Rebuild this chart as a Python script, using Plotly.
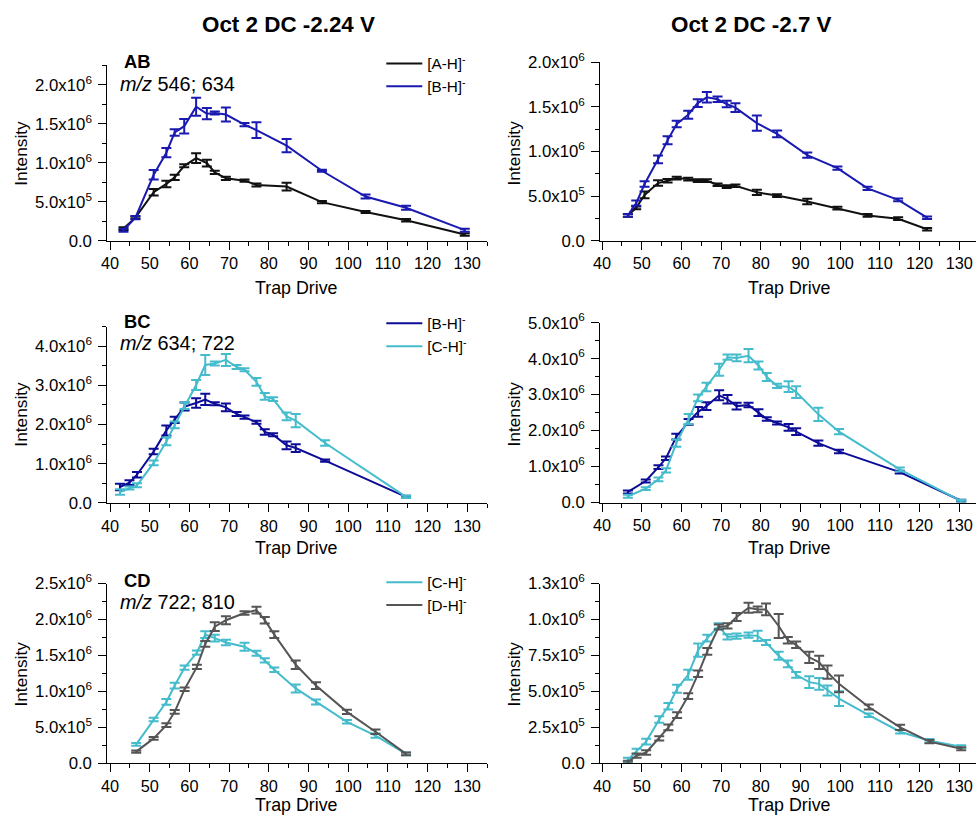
import plotly.graph_objects as go

# ---------------- data ----------------
# Panel 1: AB, DC -2.24 V
x1 = [43.4, 46.4, 51.0, 54.2, 56.3, 58.7, 61.7, 64.4, 66.4, 69.2, 73.9, 76.9, 84.5, 93.4, 104.4, 114.6, 129.4]
ab1_A = [157e3, 297e3, 623e3, 729e3, 814e3, 962e3, 1.06e6, 996e3, 877e3, 801e3, 771e3, 716e3, 695e3, 496e3, 369e3, 263e3, 81e3]
ab1_A_err = [17e3, 15e3, 42e3, 42e3, 34e3, 20e3, 63e3, 42e3, 20e3, 20e3, 15e3, 20e3, 50e3, 15e3, 12e3, 15e3, 15e3]
ab1_B = [136e3, 297e3, 847e3, 1.13e6, 1.39e6, 1.47e6, 1.72e6, 1.63e6, 1.64e6, 1.62e6, 1.49e6, 1.42e6, 1.22e6, 898e3, 568e3, 424e3, 136e3]
ab1_B_err = [20e3, 20e3, 60e3, 60e3, 42e3, 93e3, 115e3, 72e3, 20e3, 90e3, 20e3, 100e3, 85e3, 12e3, 25e3, 25e3, 20e3]

# Panel 2: AB, DC -2.7 V
x2 = [46.5, 48.6, 50.7, 54.1, 56.5, 58.8, 61.7, 64.1, 66.4, 69.1, 71.4, 73.6, 79.0, 84.1, 91.7, 99.3, 106.9, 114.6, 121.9]
ab2_A = [284e3, 369e3, 513e3, 646e3, 672e3, 701e3, 690e3, 672e3, 672e3, 627e3, 605e3, 616e3, 542e3, 506e3, 439e3, 365e3, 284e3, 247e3, 129e3]
ab2_A_err = [15e3, 15e3, 37e3, 30e3, 20e3, 15e3, 15e3, 15e3, 15e3, 15e3, 15e3, 15e3, 30e3, 15e3, 30e3, 15e3, 15e3, 15e3, 15e3]
ab2_B = [284e3, 421e3, 635e3, 911e3, 1.125e6, 1.306e6, 1.41e6, 1.54e6, 1.605e6, 1.583e6, 1.53e6, 1.49e6, 1.317e6, 1.196e6, 959e3, 812e3, 587e3, 458e3, 258e3]
ab2_B_err = [15e3, 30e3, 30e3, 44e3, 44e3, 37e3, 44e3, 44e3, 59e3, 30e3, 37e3, 48e3, 85e3, 37e3, 30e3, 18e3, 18e3, 15e3, 15e3]

# Panel 3: BC, DC -2.24 V
x3 = [42.5, 44.9, 46.8, 51.0, 54.2, 56.3, 58.8, 61.7, 64.0, 66.4, 69.2, 71.9, 73.9, 76.9, 79.0, 81.1, 84.5, 86.8, 94.2, 114.6]
bc1_B = [407e3, 517e3, 720e3, 1.31e6, 1.85e6, 2.12e6, 2.46e6, 2.55e6, 2.64e6, 2.53e6, 2.44e6, 2.27e6, 2.19e6, 2.06e6, 1.81e6, 1.74e6, 1.47e6, 1.40e6, 1.08e6, 153e3]
bc1_B_err = [85e3, 60e3, 70e3, 70e3, 127e3, 80e3, 100e3, 120e3, 144e3, 40e3, 100e3, 50e3, 40e3, 40e3, 70e3, 40e3, 100e3, 100e3, 30e3, 30e3]
bc1_C = [280e3, 381e3, 449e3, 1.02e6, 1.57e6, 1.99e6, 2.48e6, 3.01e6, 3.52e6, 3.56e6, 3.65e6, 3.47e6, 3.40e6, 3.09e6, 2.72e6, 2.65e6, 2.21e6, 2.10e6, 1.53e6, 153e3]
bc1_C_err = [70e3, 40e3, 50e3, 60e3, 100e3, 85e3, 85e3, 127e3, 254e3, 50e3, 153e3, 50e3, 40e3, 100e3, 85e3, 50e3, 100e3, 170e3, 70e3, 30e3]

# Panel 4: BC, DC -2.7 V
x4 = [46.5, 51.0, 54.2, 56.1, 58.7, 61.8, 64.2, 66.3, 69.5, 71.6, 73.9, 76.9, 79.4, 81.5, 84.1, 87.0, 88.9, 94.5, 99.7, 115.0, 130.5]
bc2_B = [294e3, 597e3, 983e3, 1.23e6, 1.83e6, 2.24e6, 2.52e6, 2.68e6, 2.98e6, 2.87e6, 2.68e6, 2.71e6, 2.50e6, 2.32e6, 2.21e6, 2.09e6, 1.97e6, 1.65e6, 1.42e6, 846e3, 50e3]
bc2_B_err = [40e3, 40e3, 50e3, 50e3, 80e3, 80e3, 138e3, 110e3, 138e3, 120e3, 92e3, 60e3, 92e3, 50e3, 40e3, 92e3, 92e3, 74e3, 50e3, 40e3, 30e3]
bc2_C = [175e3, 386e3, 643e3, 892e3, 1.65e6, 2.32e6, 2.91e6, 3.21e6, 3.69e6, 4.04e6, 4.02e6, 4.08e6, 3.81e6, 3.49e6, 3.24e6, 3.22e6, 3.07e6, 2.45e6, 1.97e6, 919e3, 40e3]
bc2_C_err = [40e3, 40e3, 50e3, 60e3, 100e3, 138e3, 92e3, 120e3, 165e3, 74e3, 92e3, 184e3, 110e3, 110e3, 60e3, 150e3, 165e3, 184e3, 74e3, 55e3, 30e3]

# Panel 5: CD, DC -2.24 V
x5 = [46.6, 51.0, 54.2, 56.3, 58.8, 61.9, 64.0, 66.4, 69.2, 73.9, 76.9, 79.0, 81.4, 86.8, 91.9, 99.7, 106.9, 114.6]
cd1_C = [262e3, 608e3, 852e3, 1.08e6, 1.33e6, 1.54e6, 1.79e6, 1.74e6, 1.68e6, 1.62e6, 1.53e6, 1.43e6, 1.30e6, 1.04e6, 852e3, 576e3, 382e3, 129e3]
cd1_C_err = [20e3, 25e3, 40e3, 40e3, 30e3, 30e3, 46e3, 46e3, 37e3, 55e3, 35e3, 30e3, 30e3, 55e3, 35e3, 25e3, 30e3, 20e3]
cd1_D = [161e3, 345e3, 529e3, 714e3, 1.03e6, 1.34e6, 1.66e6, 1.90e6, 1.99e6, 2.09e6, 2.13e6, 1.99e6, 1.79e6, 1.37e6, 1.08e6, 714e3, 437e3, 129e3]
cd1_D_err = [15e3, 20e3, 25e3, 25e3, 25e3, 30e3, 40e3, 60e3, 55e3, 25e3, 46e3, 46e3, 46e3, 60e3, 46e3, 30e3, 30e3, 20e3]

# Panel 6: CD, DC -2.7 V
x6 = [46.5, 48.7, 51.1, 54.4, 56.7, 58.9, 61.7, 64.2, 66.5, 69.4, 71.6, 73.9, 76.9, 79.2, 81.3, 84.5, 86.8, 88.9, 92.2, 94.7, 96.8, 99.7, 107.2, 115.1, 122.5, 130.5]
cd2_C = [23e3, 81e3, 150e3, 304e3, 396e3, 518e3, 615e3, 787e3, 870e3, 955e3, 879e3, 884e3, 891e3, 886e3, 840e3, 748e3, 691e3, 615e3, 564e3, 552e3, 506e3, 449e3, 334e3, 219e3, 156e3, 115e3]
cd2_C_err = [15e3, 20e3, 20e3, 23e3, 23e3, 28e3, 35e3, 46e3, 23e3, 18e3, 18e3, 18e3, 18e3, 35e3, 18e3, 28e3, 23e3, 20e3, 41e3, 41e3, 35e3, 51e3, 12e3, 12e3, 12e3, 10e3]
cd2_D = [7e3, 53e3, 74e3, 173e3, 249e3, 334e3, 467e3, 622e3, 778e3, 948e3, 955e3, 1.018e6, 1.082e6, 1.07e6, 1.07e6, 955e3, 856e3, 824e3, 737e3, 702e3, 633e3, 552e3, 391e3, 249e3, 150e3, 100e3]
cd2_D_err = [10e3, 15e3, 15e3, 15e3, 20e3, 20e3, 20e3, 23e3, 23e3, 18e3, 18e3, 28e3, 35e3, 20e3, 41e3, 83e3, 23e3, 23e3, 39e3, 46e3, 46e3, 58e3, 18e3, 18e3, 12e3, 10e3]

x_ticks = [40, 50, 60, 70, 80, 90, 100, 110, 120, 130]
y_ticks_1 = [0, 5e5, 1e6, 1.5e6, 2e6]
y_text_1 = ["0.0", "5.0x10<sup>5</sup>", "1.0x10<sup>6</sup>", "1.5x10<sup>6</sup>", "2.0x10<sup>6</sup>"]
y_ticks_3 = [0, 1e6, 2e6, 3e6, 4e6]
y_text_3 = ["0.0", "1.0x10<sup>6</sup>", "2.0x10<sup>6</sup>", "3.0x10<sup>6</sup>", "4.0x10<sup>6</sup>"]
y_ticks_4 = [0, 1e6, 2e6, 3e6, 4e6, 5e6]
y_text_4 = ["0.0", "1.0x10<sup>6</sup>", "2.0x10<sup>6</sup>", "3.0x10<sup>6</sup>", "4.0x10<sup>6</sup>", "5.0x10<sup>6</sup>"]
y_ticks_5 = [0, 5e5, 1e6, 1.5e6, 2e6, 2.5e6]
y_text_5 = ["0.0", "5.0x10<sup>5</sup>", "1.0x10<sup>6</sup>", "1.5x10<sup>6</sup>", "2.0x10<sup>6</sup>", "2.5x10<sup>6</sup>"]
y_ticks_6 = [0, 2.5e5, 5e5, 7.5e5, 1e6, 1.25e6]
y_text_6 = ["0.0", "2.5x10<sup>5</sup>", "5.0x10<sup>5</sup>", "7.5x10<sup>5</sup>", "1.0x10<sup>6</sup>", "1.3x10<sup>6</sup>"]

BLACK = "#111111"
BLUE = "#1a1ab0"
NAVY = "#0c0c96"
CYAN = "#45bccc"
GRAY = "#555555"
FONT = "Liberation Sans, Arial, sans-serif"

W, H = 977, 824
# observed page-to-photo mapping (photo = S * page + O); positions below are photo pixels
SX, OX = 0.984, 7.9
SY, OY = 0.981, 7.9
FS = 1 / 0.982


def px(p):
    return min(1.0, max(0.0, (p - OX) / SX / W))


def py(p):
    return min(1.0, max(0.0, 1 - (p - OY) / SY / H))


def f(s):
    return round(s * FS, 2)


fig = go.Figure()


def add(x, y, err, color, name, idx, legend=None):
    fig.add_trace(go.Scatter(
        x=x, y=y, mode="lines", name=name,
        line=dict(color=color, width=2),
        error_y=dict(type="data", array=err, visible=True, color=color, thickness=2, width=5),
        xaxis="x" if idx == 1 else f"x{idx}",
        yaxis="y" if idx == 1 else f"y{idx}",
        showlegend=legend is not None,
        legend=legend if legend else "legend",
    ))


add(x1, ab1_A, ab1_A_err, BLACK, "[A-H]<sup>-</sup>", 1, "legend")
add(x1, ab1_B, ab1_B_err, BLUE, "[B-H]<sup>-</sup>", 1, "legend")
add(x2, ab2_A, ab2_A_err, BLACK, "[A-H]<sup>-</sup>", 2)
add(x2, ab2_B, ab2_B_err, BLUE, "[B-H]<sup>-</sup>", 2)
add(x3, bc1_B, bc1_B_err, NAVY, "[B-H]<sup>-</sup>", 3, "legend2")
add(x3, bc1_C, bc1_C_err, CYAN, "[C-H]<sup>-</sup>", 3, "legend2")
add(x4, bc2_B, bc2_B_err, NAVY, "[B-H]<sup>-</sup>", 4)
add(x4, bc2_C, bc2_C_err, CYAN, "[C-H]<sup>-</sup>", 4)
add(x5, cd1_C, cd1_C_err, CYAN, "[C-H]<sup>-</sup>", 5, "legend3")
add(x5, cd1_D, cd1_D_err, GRAY, "[D-H]<sup>-</sup>", 5, "legend3")
add(x6, cd2_C, cd2_C_err, CYAN, "[C-H]<sup>-</sup>", 6)
add(x6, cd2_D, cd2_D_err, GRAY, "[D-H]<sup>-</sup>", 6)

XMAX = SX * W + OX - 0.5
# columns: (left px, right px, pixel of x=40, pixels per unit)
cols = {"L": (107.5, 484, 110.0, 3.933), "R": (596, min(971, XMAX), 597.7, 3.933)}
# per panel: (column, top px, bottom px)
panels = {1: ("L", 61.7, 238.5), 2: ("R", 58.3, 238.5), 3: ("L", 325, 502.7),
          4: ("R", 321, 502.3), 5: ("L", 584, 765), 6: ("R", 584, 765)}
yinfo = {
    1: ([0, 2.25e6], y_ticks_1, y_text_1, 2.5e5),
    2: ([0, 2.0e6], y_ticks_1, y_text_1, 2.5e5),
    3: ([0, 4.5e6], y_ticks_3, y_text_3, 5e5),
    4: ([0, 5.0e6], y_ticks_4, y_text_4, 5e5),
    5: ([0, 2.5e6], y_ticks_5, y_text_5, 2.5e5),
    6: ([0, 1.25e6], y_ticks_6, y_text_6, 1.25e5),
}

layout = {}
for i in range(1, 7):
    c, t, b = panels[i]
    l, r, x40, ppu = cols[c]
    xr = [40 + (l - x40) / ppu, 40 + (r - x40) / ppu]
    yr, yt, ytt, ymin = yinfo[i]
    xk = "xaxis" if i == 1 else f"xaxis{i}"
    yk = "yaxis" if i == 1 else f"yaxis{i}"
    layout[xk] = dict(
        domain=[px(l), px(r)], range=xr, anchor="y" if i == 1 else f"y{i}",
        tickvals=x_ticks, ticks="outside", ticklen=8, tickwidth=1.3, tickcolor="black",
        showline=True, linecolor="black", linewidth=1.3, showgrid=False, zeroline=False,
        tickfont=dict(size=f(16), color="black", family=FONT),
        minor=dict(dtick=5, tick0=0, ticks="outside", ticklen=4, tickwidth=1.3, tickcolor="black", showgrid=False),
    )
    layout[yk] = dict(
        domain=[py(b), py(t)], range=yr, anchor="x" if i == 1 else f"x{i}",
        tickvals=yt, ticktext=ytt, ticks="outside", ticklen=8, tickwidth=1.3, tickcolor="black",
        showline=True, linecolor="black", linewidth=1.3, showgrid=False, zeroline=False,
        tickfont=dict(size=f(16.5), color="black", family=FONT), ticklabelstandoff=3,
        minor=dict(dtick=ymin, tick0=0, ticks="outside", ticklen=4, tickwidth=1.3, tickcolor="black", showgrid=False),
    )

leg_common = dict(xanchor="left", yanchor="top", bgcolor="rgba(0,0,0,0)",
                  font=dict(size=f(15), color="black", family=FONT), itemwidth=36,
                  tracegroupgap=0)
layout["legend"] = dict(x=377 / W, y=1 - 36 / H, **leg_common)
layout["legend2"] = dict(x=377 / W, y=1 - 303 / H, **leg_common)
layout["legend3"] = dict(x=377 / W, y=1 - 569 / H, **leg_common)

ann = []


def txt(x, y, s, size, bold=False, angle=0, xanchor="center"):
    ann.append(dict(x=px(x), y=py(y), xref="paper", yref="paper", text=(f"<b>{s}</b>" if bold else s),
                    showarrow=False, textangle=angle, xanchor=xanchor, yanchor="middle",
                    font=dict(size=f(size), color="black", family=FONT)))


txt(287, 20, "Oct 2 DC -2.24 V", 22, bold=True)
txt(746, 20, "Oct 2 DC -2.7 V", 22, bold=True)

for row_y in [(150, 286), (413, 548), (675, 807)]:
    txt(21.5, row_y[0], "Intensity", 17, angle=-90)
    txt(510, row_y[0], "Intensity", 17, angle=-90)
    txt(295, row_y[1], "Trap Drive", 17.5)
    txt(783, row_y[1], "Trap Drive", 17.5)

for (lab, mz, ytop) in [("AB", "546; 634", 58), ("BC", "634; 722", 320), ("CD", "722; 810", 581)]:
    txt(122, ytop, lab, 18, bold=True, xanchor="left")
    txt(118, ytop + 22, f"<i>m/z</i> {mz}", 19.5, xanchor="left")

fig.update_layout(
    width=W, height=H, margin=dict(l=0, r=0, t=0, b=0),
    paper_bgcolor="white", plot_bgcolor="white",
    font=dict(family=FONT, color="black"),
    annotations=ann, showlegend=True,
    **layout,
)

fig.write_html("out.html")
